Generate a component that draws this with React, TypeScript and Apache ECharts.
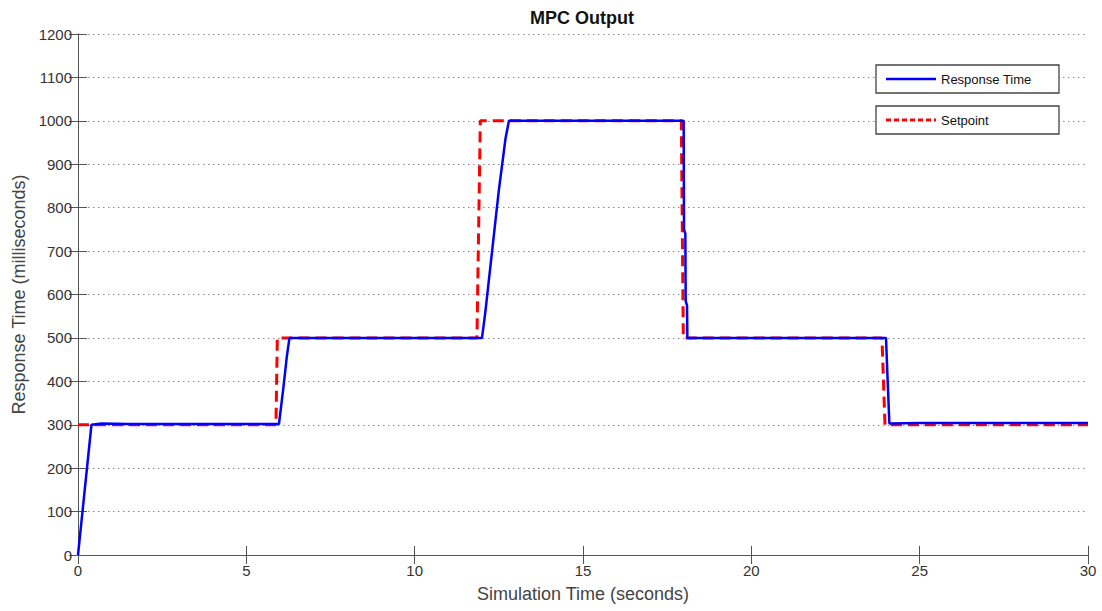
import React, { useEffect, useRef } from "react";
import * as echarts from "echarts";

// Response (blue) – simulation time (s) and response time (ms)
const respTime = [0, 0.4, 0.7, 1.5, 5.97, 6.1, 6.2, 6.28, 12.0, 12.1, 12.2, 12.3, 12.4, 12.5, 12.6, 12.7, 12.8, 17.99, 18.0, 18.04, 18.05, 18.09, 18.1, 24.0, 24.05, 24.1, 25, 30];
const respValue = [0, 300, 303, 302, 302, 385, 455, 500, 500, 560, 630, 700, 770, 840, 900, 960, 1000, 1000, 750, 740, 585, 575, 500, 500, 400, 303, 304, 304];

// Setpoint (red dashed)
const spTime = [0, 5.88, 5.92, 11.85, 11.95, 17.92, 17.98, 23.88, 23.97, 30];
const spValue = [300, 300, 500, 500, 1000, 1000, 500, 500, 300, 300];

const seriesNames = ["Response Time", "Setpoint"];

const xTicks = { min: 0, max: 30, interval: 5 };
const yTicks = { min: 0, max: 1200, interval: 100 };

const FONT = "'Liberation Sans', Arial, sans-serif";

export default function App() {
  const ref = useRef<HTMLDivElement>(null);
  useEffect(() => {
    if (!ref.current) return;
    const chart = echarts.init(ref.current, null, { renderer: "svg" });
    const frame = { show: true, lineStyle: { color: "#555", width: 1 } };
    const tickIn = { show: true, inside: true, length: 9, lineStyle: { color: "#555" } };
    const legendBox = (y: number) => ({
      type: "rect",
      shape: { x: 876, y, width: 183, height: 28 },
      style: { fill: "#fff", stroke: "#444", lineWidth: 1.3 },
      z: 10,
    });
    const legendText = (text: string, y: number) => ({
      type: "text",
      x: 941,
      y,
      style: { text, fontFamily: FONT, fontSize: 13, fill: "#111", textVerticalAlign: "middle", verticalAlign: "middle" },
      z: 11,
    });
    chart.setOption({
      animation: false,
      backgroundColor: "#fff",
      textStyle: { fontFamily: FONT },
      title: {
        text: "MPC Output",
        left: 525,
        top: 4,
        textStyle: { fontFamily: FONT, fontSize: 18, fontWeight: "bold", color: "#111" },
      },
      grid: { left: 78, right: 14, top: 34, bottom: 56, containLabel: false },
      graphic: [
        legendBox(65),
        legendBox(106),
        { type: "line", shape: { x1: 886, y1: 79, x2: 936, y2: 79 }, style: { stroke: "#0000ff", lineWidth: 2.5 }, z: 11 },
        { type: "line", shape: { x1: 886, y1: 120, x2: 936, y2: 120 }, style: { stroke: "#ff0000", lineWidth: 3, lineDash: [5, 3] }, z: 11 },
        legendText(seriesNames[0], 79),
        legendText(seriesNames[1], 120),
      ],
      xAxis: [
        {
          type: "value",
          position: "bottom",
          ...xTicks,
          name: "Simulation Time (seconds)",
          nameLocation: "middle",
          nameGap: 30,
          nameTextStyle: { fontFamily: FONT, fontSize: 18, color: "#444" },
          axisLine: frame,
          axisTick: tickIn,
          axisLabel: { fontFamily: FONT, fontSize: 15, color: "#333", margin: 8, formatter: (v: number) => String(v) },
          splitLine: { show: false },
        },
        {
          type: "value",
          position: "top",
          ...xTicks,
          axisLine: frame,
          axisTick: tickIn,
          axisLabel: { show: false },
          splitLine: { show: false },
        },
      ],
      yAxis: [
        {
          type: "value",
          position: "left",
          ...yTicks,
          name: "Response Time (milliseconds)",
          nameLocation: "middle",
          nameGap: 50,
          nameTextStyle: { fontFamily: FONT, fontSize: 18, color: "#444" },
          axisLine: frame,
          axisTick: tickIn,
          axisLabel: { fontFamily: FONT, fontSize: 15, color: "#333", margin: 6, formatter: (v: number) => String(v) },
          splitLine: { show: true, lineStyle: { type: [1.5, 3.5], color: "#888", width: 1 } },
        },
        {
          type: "value",
          position: "right",
          ...yTicks,
          axisLine: frame,
          axisTick: tickIn,
          axisLabel: { show: false },
          splitLine: { show: false },
        },
      ],
      series: [
        {
          name: seriesNames[1],
          type: "line",
          xAxisIndex: 0,
          yAxisIndex: 0,
          symbol: "none",
          data: spTime.map((t, i) => [t, spValue[i]]),
          lineStyle: { color: "#ff0000", width: 3, type: [11, 6] },
          itemStyle: { color: "#ff0000" },
          z: 2,
        },
        {
          name: seriesNames[0],
          type: "line",
          xAxisIndex: 0,
          yAxisIndex: 0,
          symbol: "none",
          data: respTime.map((t, i) => [t, respValue[i]]),
          lineStyle: { color: "#0000ff", width: 2.5 },
          itemStyle: { color: "#0000ff" },
          z: 3,
        },
      ],
    });
    return () => chart.dispose();
  }, []);
  return <div ref={ref} style={{ position: "fixed", left: 0, top: 0, width: 1102, height: 611 }} />;
}
